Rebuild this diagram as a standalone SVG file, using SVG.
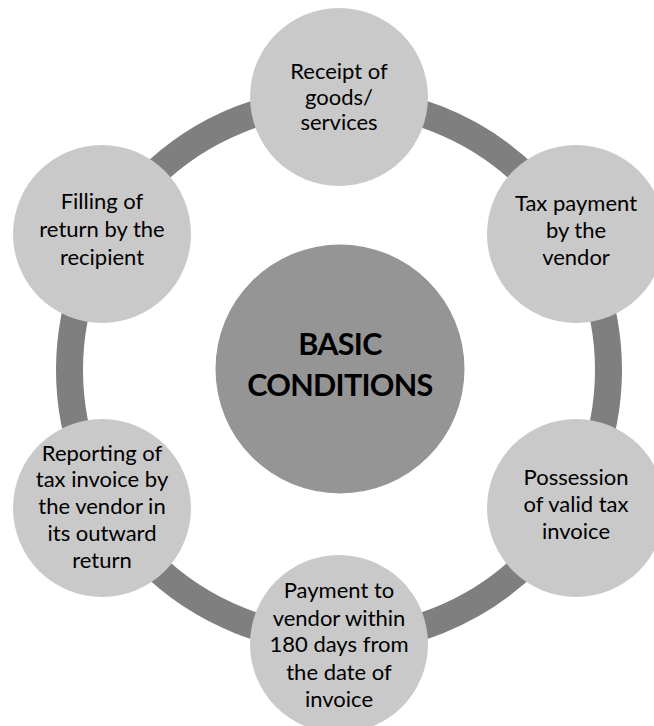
<svg xmlns="http://www.w3.org/2000/svg" width="654" height="726" viewBox="0 0 654 726">
<style>
.node{fill:#c9c9c9}
.hub{fill:#959595}
.t{font-family:Lato,"Open Sans","Liberation Sans",sans-serif;font-size:22px;fill:#000;text-anchor:middle}
.h{font-family:Lato,"Open Sans","Liberation Sans",sans-serif;font-size:30.5px;font-weight:bold;letter-spacing:-0.7px;fill:#000;text-anchor:middle}
</style>
<rect width="654" height="726" fill="#ffffff"/>
<g id="connectors">
<circle cx="339" cy="370" r="269.5" fill="none" stroke="#7f7f7f" stroke-width="27"/>
</g>
<g id="hub">
<circle class="hub" cx="340" cy="369" r="124.5"/>
<text class="h" x="340" y="355">BASIC</text>
<text class="h" x="340" y="396">CONDITIONS</text>
</g>
<g id="receipt">
<circle class="node" cx="339" cy="97" r="89"/>
<text class="t" x="339" y="79">Receipt of</text>
<text class="t" x="339" y="105">goods/</text>
<text class="t" x="339" y="130">services</text>
</g>
<g id="tax-payment">
<circle class="node" cx="576" cy="234" r="89"/>
<text class="t" x="576" y="211">Tax payment</text>
<text class="t" x="576" y="238">by the</text>
<text class="t" x="576" y="265">vendor</text>
</g>
<g id="possession">
<circle class="node" cx="576" cy="508" r="89"/>
<text class="t" x="576" y="485">Possession</text>
<text class="t" x="576" y="512">of valid tax</text>
<text class="t" x="576" y="539">invoice</text>
</g>
<g id="payment">
<circle class="node" cx="339" cy="644" r="89"/>
<text class="t" x="339" y="598">Payment to</text>
<text class="t" x="339" y="626">vendor within</text>
<text class="t" x="339" y="652">180 days from</text>
<text class="t" x="339" y="680">the date of</text>
<text class="t" x="339" y="707">invoice</text>
</g>
<g id="reporting">
<circle class="node" cx="102" cy="508" r="89"/>
<text class="t" x="102" y="461">Reporting of</text>
<text class="t" x="102" y="487">tax invoice by</text>
<text class="t" x="102" y="514">the vendor in</text>
<text class="t" x="102" y="541">its outward</text>
<text class="t" x="102" y="568">return</text>
</g>
<g id="filling">
<circle class="node" cx="102" cy="234" r="89"/>
<text class="t" x="102" y="209">Filling of</text>
<text class="t" x="102" y="237">return by the</text>
<text class="t" x="102" y="265">recipient</text>
</g>
</svg>
